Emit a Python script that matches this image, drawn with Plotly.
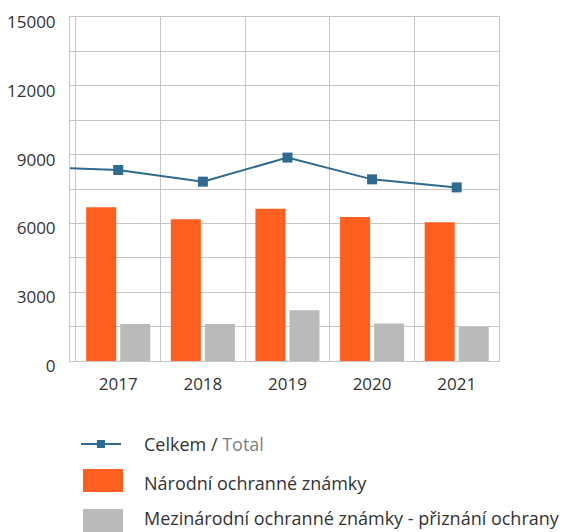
import plotly.graph_objects as go

years = [2017, 2018, 2019, 2020, 2021]
national = [6700, 6180, 6640, 6280, 6050]
international = [1610, 1610, 2210, 1640, 1480]
total_years = [2016, 2017, 2018, 2019, 2020, 2021]
total = [8460, 8330, 7820, 8870, 7920, 7570]
y_ticks = [0, 3000, 6000, 9000, 12000, 15000]
y_ticktext = ["0", "3000", "6000", "9000", "12000", "15000"]

ORANGE = "#FF5F1F"
GRAY = "#B9BABB"
BLUE = "#2F6A90"
TEXT = "#333333"
GRID = "#C6C6C9"
FONT = "Open Sans"

W, H = 568, 532
L, R, T, B = 70, 499, 17, 361

fig = go.Figure()
fig.add_trace(go.Bar(x=years, y=national, marker=dict(color=ORANGE, line_width=0),
                     name="Národní ochranné známky", showlegend=False))
fig.add_trace(go.Bar(x=years, y=international, marker=dict(color=GRAY, line_width=0),
                     name="Mezinárodní ochranné známky - přiznání ochrany", showlegend=False))
fig.add_trace(go.Scatter(x=total_years, y=total, mode="lines+markers",
                         line=dict(color=BLUE, width=2),
                         marker=dict(symbol="square", size=10, color=BLUE),
                         name="Celkem / Total", showlegend=False))

def px(x):
    return (x - L) / (R - L)

def py(y):
    return (B - y) / (B - T)

shapes = []
annotations = []
shapes.append(dict(type="line", xref="paper", yref="paper", x0=px(81), x1=px(121),
                   y0=py(444), y1=py(444), line=dict(color=BLUE, width=2)))
shapes.append(dict(type="rect", xref="paper", yref="paper", x0=px(97), x1=px(105),
                   y0=py(448), y1=py(440), fillcolor=BLUE, line_width=0))
shapes.append(dict(type="rect", xref="paper", yref="paper", x0=px(83), x1=px(123),
                   y0=py(492), y1=py(469), fillcolor=ORANGE, line_width=0))
shapes.append(dict(type="rect", xref="paper", yref="paper", x0=px(83), x1=px(123),
                   y0=py(540), y1=py(509), fillcolor=GRAY, line_width=0))
legend_texts = [
    ("Celkem / <span style='color:#808080'>Total</span>", 444),
    ("Národní ochranné známky", 483),
    ("Mezinárodní ochranné známky - přiznání ochrany", 518),
]
for txt, yy in legend_texts:
    annotations.append(dict(text=txt, xref="paper", yref="paper", x=px(142), y=py(yy),
                            xanchor="left", yanchor="middle", showarrow=False,
                            font=dict(family=FONT, size=18, color=TEXT)))

fig.update_layout(
    width=W, height=H,
    margin=dict(l=L, r=W - R, t=T, b=H - B, pad=0, autoexpand=False),
    paper_bgcolor="white", plot_bgcolor="white",
    barmode="group", bargap=0.196, bargroupgap=0.117,
    shapes=shapes, annotations=annotations,
    font=dict(family=FONT, size=17, color=TEXT),
    xaxis=dict(range=[2016.43, 2021.5], tickmode="array", tickvals=years,
               ticktext=[str(y) for y in years], showgrid=False, zeroline=False,
               showline=True, mirror=True, linecolor=GRID, linewidth=1, ticks="",
               ticklabelstandoff=8, tickfont=dict(size=17, color=TEXT),
               automargin=False, ticklabeloverflow="allow",
               minor=dict(tick0=2016.5, dtick=1, showgrid=True, gridcolor=GRID, gridwidth=1)),
    yaxis=dict(range=[0, 15000], tickmode="array", tickvals=y_ticks, ticktext=y_ticktext,
               showgrid=True, gridcolor=GRID, gridwidth=1, zeroline=False,
               showline=True, mirror=True, linecolor=GRID, linewidth=1, ticks="",
               ticklabelstandoff=10, ticklabelshift=5, tickfont=dict(size=17, color=TEXT),
               automargin=False, ticklabeloverflow="allow",
               minor=dict(dtick=1500, tick0=0, showgrid=True, gridcolor=GRID, gridwidth=1)),
)

fig.write_html("out.html", config={"displayModeBar": False},
               post_script="document.body.style.margin='0px';document.body.style.overflow='hidden';")
